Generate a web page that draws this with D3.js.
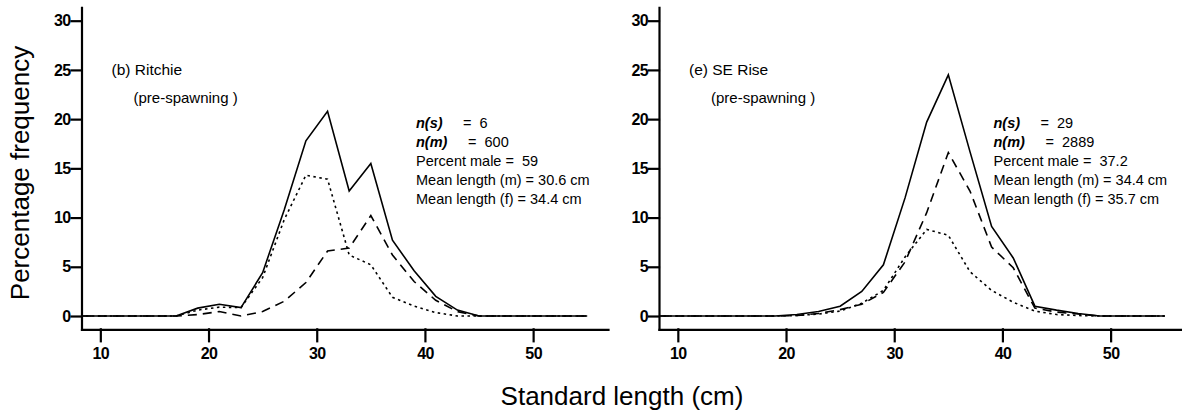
<!DOCTYPE html>
<html>
<head>
<meta charset="utf-8">
<script src="https://cdn.jsdelivr.net/npm/d3@7"></script>
<style>
  body { margin: 0; background: #fff; }
  svg { display: block; font-family: "Liberation Sans", Arial, sans-serif; }
  .axis path, .axis line { stroke: #000; stroke-width: 2.2; stroke-linecap: square; }
  .axis text { font-size: 16px; font-weight: bold; letter-spacing: -0.6px; fill: #000; font-family: "Liberation Sans", Arial, sans-serif; }
  .freq { fill: none; stroke: #000; stroke-width: 1.6; }
  .note { font-size: 14.5px; fill: #000; white-space: pre; }
  .title { font-size: 26px; fill: #000; }
</style>
</head>
<body>
<div id="chart"></div>
<script>
// Standard length classes (cm), 2 cm bins
const lengthBins = [7, 9, 11, 13, 15, 17, 19, 21, 23, 25, 27, 29, 31, 33, 35, 37, 39, 41, 43, 45, 47, 49, 51, 53, 55];

// (b) Ritchie - percentage frequency
const ritchieAll    = [0, 0, 0, 0, 0, 0, 0.8, 1.2, 0.85, 4.4, 10.8, 17.8, 20.8, 12.7, 15.5, 7.7, 4.6, 2.0, 0.6, 0, 0, 0, 0, 0, 0];
const ritchieMale   = [0, 0, 0, 0, 0, 0, 0.6, 0.9, 0.85, 3.9, 9.8, 14.3, 13.9, 6.2, 5.2, 1.9, 1.0, 0.35, 0, 0, 0, 0, 0, 0, 0];
const ritchieFemale = [0, 0, 0, 0, 0, 0, 0.15, 0.45, 0, 0.45, 1.5, 3.4, 6.6, 6.9, 10.2, 6.2, 3.5, 1.6, 0.45, 0, 0, 0, 0, 0, 0];
const ritchieStats  = ["6", "600", "59", "30.6", "34.4"];

// (e) SE Rise - percentage frequency
const seRiseAll    = [0, 0, 0, 0, 0, 0, 0, 0.15, 0.45, 1.0, 2.5, 5.2, 12.0, 19.7, 24.5, 16.7, 9.1, 5.9, 1.0, 0.6, 0.25, 0, 0, 0, 0];
const seRiseMale   = [0, 0, 0, 0, 0, 0, 0, 0.05, 0.2, 0.5, 1.3, 2.6, 6.0, 8.8, 8.2, 4.5, 2.6, 1.4, 0.5, 0.15, 0.05, 0, 0, 0, 0];
const seRiseFemale = [0, 0, 0, 0, 0, 0, 0, 0.05, 0.25, 0.65, 1.2, 2.4, 5.5, 10.5, 16.6, 12.7, 7.0, 4.9, 0.8, 0.4, 0.2, 0, 0, 0, 0];
const seRiseStats  = ["29", "2889", "37.2", "34.4", "35.7"];

// Axis ticks
const xTicks = [10, 20, 30, 40, 50];
const yTicks = [0, 5, 10, 15, 20, 25, 30];

// Layout
const width = 1182, height = 414;
const plotTop = 7.3, plotBottom = 329.3;
const axisLength = 526.5;

const panels = [
    { x0: 81.5, name: "(b) Ritchie", all: ritchieAll, male: ritchieMale, female: ritchieFemale, stats: ritchieStats },
    { x0: 659,  name: "(e) SE Rise", all: seRiseAll, male: seRiseMale, female: seRiseFemale, stats: seRiseStats }
];

const svg = d3.select("#chart")
    .append("svg")
    .attr("width", width)
    .attr("height", height);

const y = d3.scaleLinear().domain([-1.35, 31.36]).range([plotBottom, plotTop]);

panels.forEach((p, pi) => {
    const x = d3.scaleLinear().domain([8.26, 56.92]).range([p.x0, p.x0 + axisLength]);

    // clip so lines start at the y axis
    svg.append("clipPath")
        .attr("id", "clip" + pi)
        .append("rect")
        .attr("x", p.x0).attr("y", 0)
        .attr("width", axisLength + 20).attr("height", plotBottom);

    // axes
    svg.append("g")
        .attr("class", "axis")
        .attr("transform", `translate(${p.x0},0)`)
        .call(d3.axisLeft(y).tickValues(yTicks).tickSize(10).tickSizeOuter(0).tickPadding(1).tickFormat(d3.format("d")));

    svg.append("g")
        .attr("class", "axis")
        .attr("transform", `translate(0,${plotBottom})`)
        .call(d3.axisBottom(x).tickValues(xTicks).tickSize(12).tickSizeOuter(0).tickPadding(6).tickFormat(d3.format("d")));

    // frequency lines: total (solid), male (dotted), female (dashed)
    const series = [
        { values: p.all, dash: null },
        { values: p.male, dash: "2.5,3.5" },
        { values: p.female, dash: "9,6" }
    ];
    const line = d3.line()
        .x((d, i) => x(lengthBins[i]))
        .y(d => y(d));

    series.forEach(s => {
        svg.append("path")
            .datum(s.values)
            .attr("class", "freq")
            .attr("clip-path", `url(#clip${pi})`)
            .attr("stroke-dasharray", s.dash)
            .attr("d", line);
    });

    // panel labels
    svg.append("text").attr("class", "note")
        .attr("x", p.x0 + 30).attr("y", 75)
        .style("font-size", "15.5px")
        .text(p.name);
    svg.append("text").attr("class", "note")
        .attr("x", p.x0 + 52).attr("y", 103)
        .style("font-size", "15px")
        .text("(pre-spawning )");

    // summary statistics
    const sx = p.x0 + 334.5;
    const rowY = i => 127.5 + i * 19;
    svg.append("text").attr("class", "note")
        .attr("x", sx).attr("y", rowY(0))
        .style("font-weight", "bold").style("font-style", "italic")
        .text("n(s)");
    svg.append("text").attr("class", "note")
        .attr("x", sx + 47).attr("y", rowY(0))
        .text("=  " + p.stats[0]);
    svg.append("text").attr("class", "note")
        .attr("x", sx).attr("y", rowY(1))
        .style("font-weight", "bold").style("font-style", "italic")
        .text("n(m)");
    svg.append("text").attr("class", "note")
        .attr("x", sx + 52).attr("y", rowY(1))
        .text("=  " + p.stats[1]);
    svg.append("text").attr("class", "note")
        .attr("x", sx).attr("y", rowY(2))
        .text("Percent male =  " + p.stats[2]);
    svg.append("text").attr("class", "note")
        .attr("x", sx).attr("y", rowY(3))
        .text("Mean length (m) = " + p.stats[3] + " cm");
    svg.append("text").attr("class", "note")
        .attr("x", sx).attr("y", rowY(4))
        .text("Mean length (f) = " + p.stats[4] + " cm");
});

// shared axis titles
svg.append("text")
    .attr("class", "title")
    .attr("transform", "translate(29,173) rotate(-90)")
    .attr("text-anchor", "middle")
    .text("Percentage frequency");

svg.append("text")
    .attr("class", "title")
    .attr("x", 622).attr("y", 405)
    .attr("text-anchor", "middle")
    .text("Standard length (cm)");
</script>
</body>
</html>
